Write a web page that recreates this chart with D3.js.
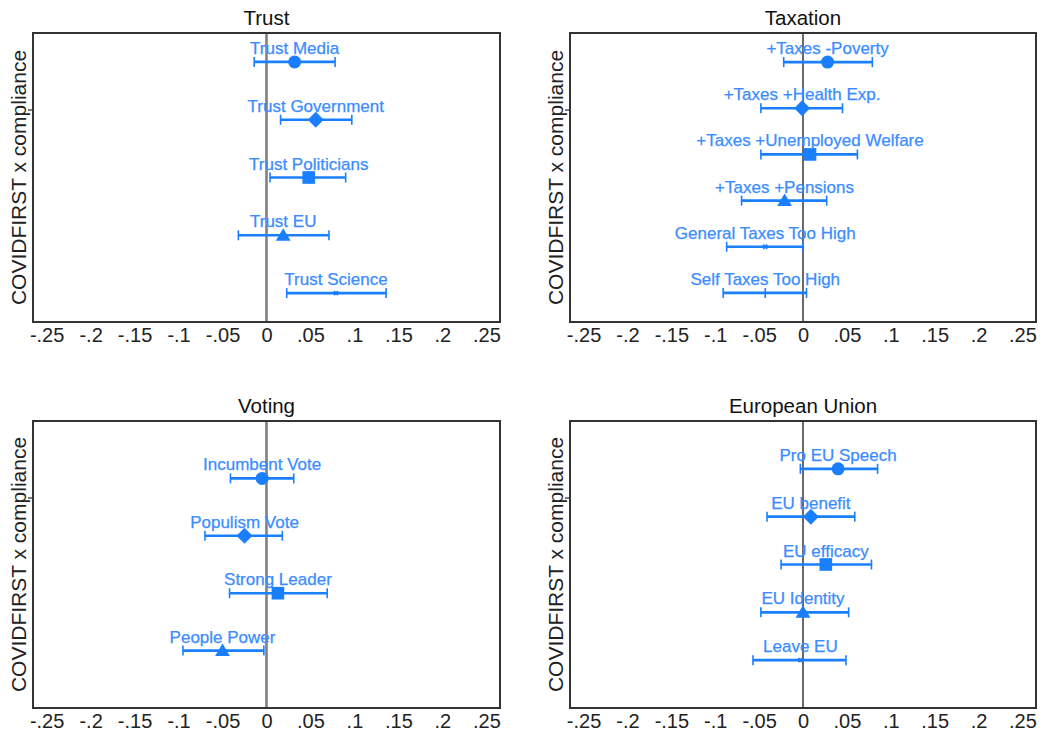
<!DOCTYPE html>
<html>
<head>
<meta charset="utf-8">
<script src="https://cdn.jsdelivr.net/npm/d3@7/dist/d3.min.js"></script>
<style>
  html, body { margin: 0; padding: 0; background: #fff; }
  svg { display: block; font-family: "Liberation Sans", Arial, Helvetica, sans-serif; }
</style>
</head>
<body>
<svg id="chart" width="1045" height="736"></svg>
<script>
// ---------- data ----------
const panelTitles = ["Trust", "Taxation", "Voting", "European Union"];
const yAxisTitle = "COVIDFIRST x compliance";
const xTickValues = [-0.25, -0.2, -0.15, -0.1, -0.05, 0, 0.05, 0.1, 0.15, 0.2, 0.25];

const trustLabels = ["Trust Media", "Trust Government", "Trust Politicians", "Trust EU", "Trust Science"];
const trustCoef   = [0.032, 0.056, 0.048, 0.019, 0.079];
const trustLo     = [-0.014, 0.016, 0.004, -0.032, 0.023];
const trustHi     = [0.078, 0.097, 0.090, 0.071, 0.136];

const taxLabels = ["+Taxes -Poverty", "+Taxes +Health Exp.", "+Taxes +Unemployed Welfare", "+Taxes +Pensions", "General Taxes Too High", "Self Taxes Too High"];
const taxCoef   = [0.028, -0.001, 0.008, -0.021, -0.043, -0.043];
const taxLo     = [-0.022, -0.048, -0.048, -0.070, -0.087, -0.091];
const taxHi     = [0.079, 0.045, 0.062, 0.027, 0.000, 0.004];

const voteLabels = ["Incumbent Vote", "Populism Vote", "Strong Leader", "People Power"];
const voteCoef   = [-0.005, -0.025, 0.013, -0.050];
const voteLo     = [-0.041, -0.070, -0.042, -0.095];
const voteHi     = [0.031, 0.018, 0.069, -0.003];

const euLabels = ["Pro EU Speech", "EU benefit", "EU efficacy", "EU Identity", "Leave EU"];
const euCoef   = [0.040, 0.009, 0.026, 0.000, -0.003];
const euLo     = [-0.003, -0.041, -0.025, -0.048, -0.057];
const euHi     = [0.085, 0.059, 0.078, 0.052, 0.049];

const markerShapes = ["circle", "diamond", "square", "triangle", "x", "plus"];

// ---------- layout ----------
const panels = [
  { title: panelTitles[0], labels: trustLabels, coef: trustCoef, lo: trustLo, hi: trustHi,
    box: { x0: 33, x1: 500, y0: 33, y1: 322 }, pad: 0.5, zero: { color: "#808080", width: 2.6 } },
  { title: panelTitles[1], labels: taxLabels, coef: taxCoef, lo: taxLo, hi: taxHi,
    box: { x0: 570, x1: 1036, y0: 33, y1: 322 }, pad: 0.63, zero: { color: "#2a2a2a", width: 1.4 } },
  { title: panelTitles[2], labels: voteLabels, coef: voteCoef, lo: voteLo, hi: voteHi,
    box: { x0: 33, x1: 500, y0: 421, y1: 708 }, pad: 1.0, zero: { color: "#808080", width: 2.6 } },
  { title: panelTitles[3], labels: euLabels, coef: euCoef, lo: euLo, hi: euHi,
    box: { x0: 570, x1: 1036, y0: 421, y1: 708 }, pad: 1.0, zero: { color: "#2a2a2a", width: 1.4 } }
];

const markColor = "#1a7fff";
const textColor = "#3a8cff";
const svg = d3.select("#chart");

const fmt = v => {
  if (v === 0) return "0";
  let s = String(+v.toFixed(2));
  return s.replace(/^(-?)0\./, "$1.");
};

function symbolPath(shape) {
  switch (shape) {
    case "circle":   return d3.symbol(d3.symbolCircle, 133)();
    case "diamond":  return "M0,-8L8,0L0,8L-8,0Z";
    case "square":   return d3.symbol(d3.symbolSquare, 160)();
    case "triangle": return "M0,-7L7.4,5.5L-7.4,5.5Z";
    default: return null;
  }
}

panels.forEach(p => {
  const b = p.box;
  const g = svg.append("g");
  const x = d3.scaleLinear().domain([-0.2655, 0.2655]).range([b.x0, b.x1]);
  const y = d3.scalePoint().domain(p.labels).range([b.y0, b.y1]).padding(p.pad);

  // title
  g.append("text").attr("x", (b.x0 + b.x1) / 2).attr("y", b.y0 - 8)
    .attr("text-anchor", "middle").attr("font-size", 20.5).attr("fill", "#111").text(p.title);

  // y axis title
  g.append("text")
    .attr("transform", `translate(${b.x0 - 7},${(b.y0 + b.y1) / 2}) rotate(-90)`)
    .attr("text-anchor", "middle").attr("font-size", 21).attr("fill", "#222").text(yAxisTitle);

  // small y tick
  g.append("line").attr("x1", b.x0 - 5).attr("x2", b.x0).attr("y1", b.y0 + 77).attr("y2", b.y0 + 77)
    .attr("stroke", "#444").attr("stroke-width", 1.4);

  // x axis
  const ax = d3.axisBottom(x).tickValues(xTickValues).tickSize(0).tickPadding(6).tickFormat(fmt);
  const axg = g.append("g").attr("transform", `translate(0,${b.y1})`).call(ax);
  axg.select(".domain").remove();
  axg.selectAll("text").attr("font-size", 20).attr("fill", "#222")
    .attr("font-family", "'Liberation Sans', Arial, sans-serif");

  // zero line
  g.append("line").attr("x1", x(0)).attr("x2", x(0)).attr("y1", b.y0).attr("y2", b.y1)
    .attr("stroke", p.zero.color).attr("stroke-width", p.zero.width);

  // box
  g.append("rect").attr("x", b.x0).attr("y", b.y0).attr("width", b.x1 - b.x0).attr("height", b.y1 - b.y0)
    .attr("fill", "none").attr("stroke", "#333").attr("stroke-width", 2);

  const rows = p.labels.map((l, i) => ({ label: l, c: p.coef[i], lo: p.lo[i], hi: p.hi[i], shape: markerShapes[i] }));
  const r = g.selectAll("g.row").data(rows).join("g").attr("class", "row");

  r.append("line").attr("x1", d => x(d.lo)).attr("x2", d => x(d.hi))
    .attr("y1", d => y(d.label)).attr("y2", d => y(d.label))
    .attr("stroke", markColor).attr("stroke-width", 2.6);
  r.append("line").attr("x1", d => x(d.lo)).attr("x2", d => x(d.lo))
    .attr("y1", d => y(d.label) - 5).attr("y2", d => y(d.label) + 5)
    .attr("stroke", markColor).attr("stroke-width", 1.6);
  r.append("line").attr("x1", d => x(d.hi)).attr("x2", d => x(d.hi))
    .attr("y1", d => y(d.label) - 5).attr("y2", d => y(d.label) + 5)
    .attr("stroke", markColor).attr("stroke-width", 1.6);

  r.each(function (d) {
    const sel = d3.select(this);
    const cx = x(d.c), cy = y(d.label);
    const path = symbolPath(d.shape);
    if (path) {
      sel.append("path").attr("d", path).attr("transform", `translate(${cx},${cy})`).attr("fill", markColor);
    } else if (d.shape === "x") {
      sel.append("path").attr("d", "M-2,-2L2,2M-2,2L2,-2").attr("transform", `translate(${cx},${cy})`)
        .attr("stroke", markColor).attr("stroke-width", 1.8).attr("fill", "none");
    } else {
      sel.append("path").attr("d", "M0,-5L0,5M-4,0L4,0").attr("transform", `translate(${cx},${cy})`)
        .attr("stroke", markColor).attr("stroke-width", 1.6).attr("fill", "none");
    }
  });

  r.append("text").attr("x", d => x(d.c)).attr("y", d => y(d.label) - 8)
    .attr("text-anchor", "middle").attr("font-size", 17).attr("fill", textColor)
    .attr("stroke", textColor).attr("stroke-width", 0.25).text(d => d.label);
});
</script>
</body>
</html>
